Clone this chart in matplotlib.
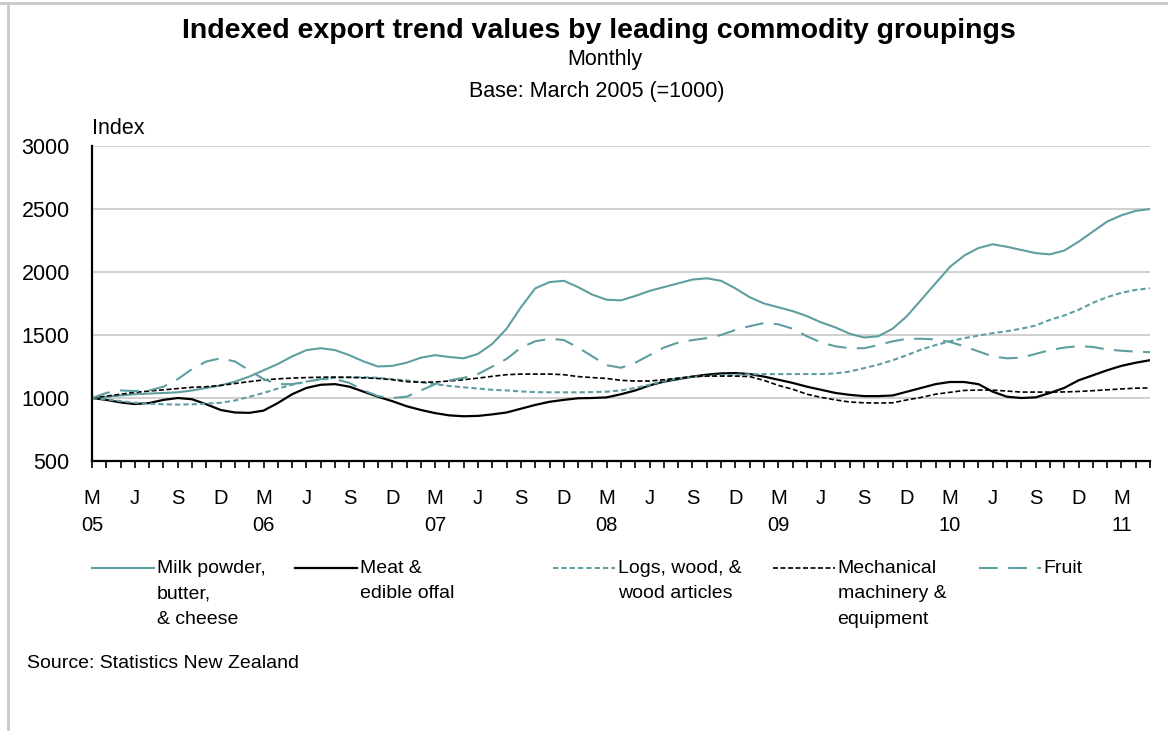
import matplotlib
matplotlib.use('Agg')
from matplotlib import pyplot as plt
from matplotlib.lines import Line2D
from matplotlib.ticker import FixedLocator, NullFormatter

plt.rcParams['font.family'] = ['Liberation Sans', 'DejaVu Sans']

# monthly data, March 2005 to May 2011 (index, March 2005 = 1000)
months = list(range(75))
tick_letters = ['M', 'J', 'S', 'D']
years = ['05', '06', '07', '08', '09', '10', '11']

milk = [1000, 1010, 1020, 1030, 1035, 1040, 1045, 1060, 1080, 1100, 1130, 1170,
        1220, 1270, 1330, 1380, 1395, 1380, 1340, 1290, 1250, 1255, 1280, 1320,
        1340, 1325, 1315, 1350, 1430, 1550, 1720, 1870, 1920, 1930, 1880, 1820,
        1780, 1775, 1810, 1850, 1880, 1910, 1940, 1950, 1930, 1870, 1800, 1750,
        1720, 1690, 1650, 1600, 1560, 1510, 1480, 1490, 1550, 1650, 1780, 1910,
        2040, 2130, 2190, 2220, 2200, 2175, 2150, 2140, 2170, 2240, 2320, 2400,
        2450, 2485, 2500]
meat = [1000, 985, 965, 952, 960, 985, 1000, 990, 950, 905, 885, 882,
        900, 960, 1030, 1080, 1105, 1110, 1090, 1050, 1010, 975, 935, 905,
        880, 862, 855, 858, 870, 885, 915, 945, 970, 985, 998, 1000,
        1005, 1030, 1060, 1100, 1130, 1150, 1170, 1185, 1195, 1198, 1190, 1170,
        1145, 1120, 1090, 1065, 1040, 1025, 1015, 1015, 1020, 1050, 1080, 1110,
        1127, 1127, 1110, 1050, 1010, 1000, 1005, 1040, 1080, 1140, 1180, 1220,
        1255, 1280, 1300]
logs = [1000, 990, 975, 962, 955, 950, 948, 950, 955, 962, 980, 1010,
        1040, 1075, 1105, 1130, 1150, 1160, 1165, 1165, 1160, 1150, 1140, 1125,
        1110, 1095, 1085, 1075, 1065, 1060, 1052, 1047, 1045, 1045, 1045, 1047,
        1050, 1060, 1080, 1105, 1135, 1155, 1168, 1175, 1180, 1185, 1188, 1190,
        1190, 1190, 1190, 1190, 1195, 1210, 1237, 1265, 1300, 1340, 1385, 1420,
        1450, 1475, 1495, 1515, 1530, 1550, 1575, 1620, 1655, 1700, 1755, 1800,
        1835, 1858, 1871]
machinery = [1000, 1015, 1030, 1045, 1055, 1065, 1075, 1085, 1090, 1100, 1115, 1130,
             1143, 1152, 1158, 1162, 1165, 1166, 1164, 1160, 1155, 1145, 1130, 1125,
             1127, 1135, 1145, 1158, 1172, 1185, 1190, 1190, 1190, 1185, 1170, 1162,
             1155, 1140, 1135, 1135, 1145, 1158, 1170, 1174, 1174, 1174, 1170, 1140,
             1100, 1070, 1030, 1005, 985, 968, 962, 960, 962, 985, 1005, 1030,
             1045, 1060, 1063, 1063, 1055, 1047, 1047, 1047, 1048, 1052, 1058, 1065,
             1072, 1078, 1080]
fruit = [1000, 1040, 1060, 1055, 1060, 1090, 1150, 1230, 1290, 1315, 1290, 1220,
         1150, 1110, 1110, 1130, 1150, 1150, 1120, 1060, 1015, 1000, 1010, 1060,
         1110, 1140, 1160, 1190, 1250, 1310, 1400, 1450, 1470, 1460, 1400, 1330,
         1260, 1240, 1280, 1340, 1400, 1440, 1460, 1475, 1500, 1540, 1570, 1595,
         1585, 1550, 1490, 1440, 1410, 1395, 1395, 1420, 1450, 1470, 1470, 1465,
         1445, 1410, 1370, 1330, 1315, 1320, 1350, 1380, 1400, 1412, 1405, 1385,
         1375, 1368, 1364]

labels = ['Milk powder,\nbutter,\n& cheese', 'Meat &\nedible offal',
          'Logs, wood, &\nwood articles', 'Mechanical\nmachinery &\nequipment', 'Fruit']

teal = '#5f9ea0'
W, H = 1168, 731

fig = plt.figure(figsize=(W / 100, H / 100), dpi=100)
ax = fig.add_axes([92 / W, 1 - 461 / H, (1150 - 92) / W, (461 - 146) / H])

ax.plot(months, milk, color=teal, lw=1.5, label=labels[0])
ax.plot(months, meat, color='black', lw=1.6, label=labels[1])
ax.plot(months, logs, color=teal, lw=1.5, dashes=(2.5, 1.5), label=labels[2])
ax.plot(months, machinery, color='black', lw=1.2, dashes=(3, 1.5), label=labels[3])
ax.plot(months, fruit, color=teal, lw=1.5, dashes=(9, 5), label=labels[4])

ax.set_xlim(0, 74)
ax.set_ylim(500, 3000)
ax.set_yticks([500, 1000, 1500, 2000, 2500, 3000])
ax.grid(axis='y', color='#c8c8c8', lw=1.2)
ax.set_axisbelow(True)

# quarterly labels, monthly ticks
major = list(range(0, 75, 3))
xt_labels = []
for i, m in enumerate(major):
    s = tick_letters[i % 4]
    if i % 4 == 0:
        s += '\n' + years[i // 4]
    xt_labels.append(s)
ax.set_xticks(major)
ax.set_xticklabels(xt_labels, fontsize=14.5, va='top', linespacing=1.55)
ax.xaxis.set_minor_locator(FixedLocator(months))
ax.xaxis.set_minor_formatter(NullFormatter())
ax.tick_params(axis='x', which='both', direction='out', length=5, width=1.2, pad=15)
ax.tick_params(axis='y', length=0, pad=16, labelsize=15.5)

for side in ['top', 'right']:
    ax.spines[side].set_visible(False)
for side in ['left', 'bottom']:
    ax.spines[side].set_linewidth(1.6)

fig.text(599 / W, 1 - 31 / H, 'Indexed export trend values by leading commodity groupings',
         ha='center', va='center', fontsize=20.5, fontweight='bold')
fig.text(605 / W, 1 - 59 / H, 'Monthly', ha='center', va='center', fontsize=15.5)
fig.text(597 / W, 1 - 91 / H, 'Base: March 2005 (=1000)', ha='center', va='center', fontsize=15.5)
fig.text(92 / W, 1 - 129 / H, 'Index', ha='left', va='center', fontsize=15.5)
fig.text(27 / W, 1 - 664 / H, 'Source: Statistics New Zealand', ha='left', va='center', fontsize=14)

# one legend entry per column, at the original column positions
handles, names = ax.get_legend_handles_labels()
col_x = [92, 295, 553, 773, 979]
for h, name, x in zip(handles, names, col_x):
    leg = fig.legend([h], [name], loc='upper left', bbox_to_anchor=(x / W, 1 - 560 / H),
                     frameon=False, fontsize=14, handlelength=3.2, handleheight=1.15,
                     handletextpad=0.12, borderpad=0, borderaxespad=0)
    for col in leg._legend_handle_box.get_children():
        for item in col.get_children():
            item.align = 'top'
    for t in leg.get_texts():
        t.set_linespacing(1.65)

# light border of the original picture
fig.add_artist(Line2D([8 / W, 8 / W], [0, 1 - 3 / H], color='#c8c8c8', lw=2))
fig.add_artist(Line2D([0, 1], [1 - 3 / H, 1 - 3 / H], color='#c8c8c8', lw=2))

fig.savefig('out.png', dpi=100)
